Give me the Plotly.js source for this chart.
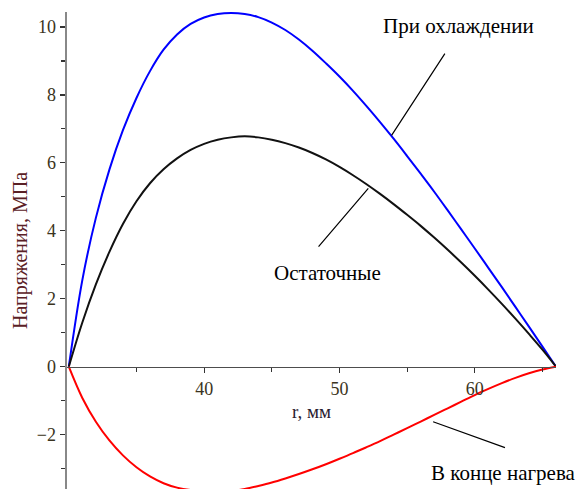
<!DOCTYPE html>
<html>
<head>
<meta charset="utf-8">
<script src="https://cdn.plot.ly/plotly-3.0.1.min.js"></script>
<style>html,body{margin:0;padding:0;background:#fff;}#chart{width:579px;height:489px;}</style>
</head>
<body>
<div id="chart"></div>
<script>
// radius, mm
var r = [30,31,32,33,34,35,36,37,38,39,40,41,42,43,44,45,46,47,48,49,50,51,52,53,54,55,56,57,58,59,60,61,62,63,64,65,66];
// stress when cooling ("При охлаждении"), MPa
var coolStress = [0,2.55,4.38,5.80,6.96,7.91,8.70,9.33,9.78,10.09,10.28,10.38,10.41,10.38,10.29,10.13,9.91,9.63,9.30,8.93,8.54,8.12,7.67,7.20,6.71,6.20,5.68,5.15,4.60,4.04,3.48,2.91,2.34,1.76,1.18,0.59,0];
// residual stress ("Остаточные"), MPa
var residualStress = [0,1.30,2.42,3.38,4.20,4.87,5.40,5.81,6.13,6.38,6.56,6.68,6.75,6.78,6.75,6.68,6.58,6.45,6.29,6.10,5.88,5.635,5.37,5.085,4.785,4.47,4.145,3.80,3.44,3.065,2.675,2.27,1.85,1.415,0.965,0.50,0];
// stress at end of heating ("В конце нагрева"), MPa
var heatStress = [0,-0.92,-1.62,-2.17,-2.61,-2.96,-3.23,-3.43,-3.56,-3.63,-3.66,-3.67,-3.66,-3.60,-3.51,-3.41,-3.29,-3.16,-3.02,-2.87,-2.71,-2.545,-2.37,-2.19,-2.0,-1.81,-1.615,-1.42,-1.225,-1.03,-0.835,-0.655,-0.485,-0.33,-0.195,-0.085,0];

var xTicks = [40,50,60];
var xMinor = [35,45,55,65];
var yTicks = [-2,0,2,4,6,8,10];
var yMinor = [-3,-1,1,3,5,7,9];

var labels = ['При охлаждении','Остаточные','В конце нагрева'];
var xTitle = 'r, мм';
var yTitle = 'Напряжения, МПа';

var serif = 'Liberation Serif, Times New Roman, serif';
var xr = [29.867, 66.0];
var yr = [-3.6, 10.44];
var zeroPos = (0 - yr[0]) / (yr[1] - yr[0]);

var traces = [
  {x:r, y:coolStress, mode:'lines', line:{color:'#0000ff', width:2, shape:'spline', smoothing:1}, hoverinfo:'skip'},
  {x:r, y:residualStress, mode:'lines', line:{color:'#111111', width:2, shape:'spline', smoothing:1}, hoverinfo:'skip'},
  {x:r, y:heatStress, mode:'lines', line:{color:'#ff0000', width:2, shape:'spline', smoothing:1}, hoverinfo:'skip'}
];

var layout = {
  width:579, height:489,
  margin:{l:67, r:23, t:12, b:0},
  paper_bgcolor:'#fff', plot_bgcolor:'#fff',
  showlegend:false,
  font:{family:serif, size:18, color:'#333'},
  xaxis:{
    range:xr, anchor:'free', position:zeroPos,
    showgrid:false, zeroline:false,
    showline:true, linecolor:'#4d4d4d', linewidth:1.5,
    tickmode:'array', tickvals:xTicks, ticktext:xTicks.map(String),
    ticks:'outside', ticklen:5, tickwidth:1.2, tickcolor:'#333',
    minor:{tickmode:'array', tickvals:xMinor, ticks:'outside', ticklen:4, tickwidth:1.2, tickcolor:'#333', showgrid:false},
    tickfont:{family:serif, size:18, color:'#3a3320'},
    title:{text:xTitle, font:{family:serif, size:19, color:'#2a2030'}, standoff:7},
    automargin:false
  },
  yaxis:{
    range:yr, anchor:'x',
    showgrid:false, zeroline:false,
    showline:true, linecolor:'#888888', linewidth:2.5,
    tickmode:'array', tickvals:yTicks,
    ticks:'outside', ticklen:5, tickwidth:1.2, tickcolor:'#333',
    minor:{tickmode:'array', tickvals:yMinor, ticks:'outside', ticklen:4, tickwidth:1.2, tickcolor:'#333', showgrid:false},
    tickfont:{family:serif, size:18, color:'#3a3320'},
    title:{text:yTitle, font:{family:serif, size:20, color:'#5a2025'}, standoff:4},
    automargin:false
  },
  annotations:[
    {text:labels[0], x:58.77, y:10.02, xref:'x', yref:'y', showarrow:false, font:{family:serif, size:21, color:'#000'}},
    {text:labels[1], x:49.13, y:2.75, xref:'x', yref:'y', showarrow:false, font:{family:serif, size:21, color:'#000'}},
    {text:labels[2], x:62.09, y:-3.13, xref:'x', yref:'y', showarrow:false, font:{family:serif, size:21, color:'#000'}},
    {text:'', x:53.85, y:6.81, ax:57.86, ay:9.26, xref:'x', yref:'y', axref:'x', ayref:'y', showarrow:true, arrowhead:0, arrowwidth:1.2, arrowcolor:'#000', standoff:0, startstandoff:0},
    {text:'', x:52.13, y:5.25, ax:48.36, ay:3.49, xref:'x', yref:'y', axref:'x', ayref:'y', showarrow:true, arrowhead:0, arrowwidth:1.2, arrowcolor:'#000', standoff:0, startstandoff:0},
    {text:'', x:56.92, y:-1.62, ax:62.34, ay:-2.4, xref:'x', yref:'y', axref:'x', ayref:'y', showarrow:true, arrowhead:0, arrowwidth:1.2, arrowcolor:'#000', standoff:0, startstandoff:0}
  ]
};

Plotly.newPlot('chart', traces, layout, {staticPlot:true, displayModeBar:false});
</script>
</body>
</html>
